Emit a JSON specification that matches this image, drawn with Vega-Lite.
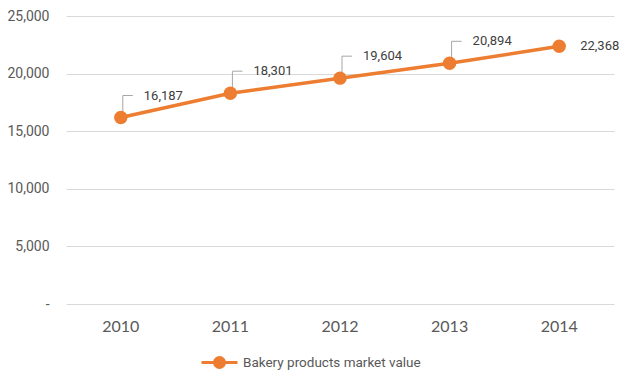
{
  "$schema": "https://vega.github.io/schema/vega-lite/v6.json",
  "width": 548,
  "height": 288,
  "autosize": {"type": "none"},
  "padding": {"left": 66, "top": 16, "right": 5, "bottom": 67},
  "background": "white",
  "config": {
    "view": {"stroke": null},
    "font": "Roboto"
  },
  "data": {
    "values": [
      {"year": "2010", "value": 16187, "series": "Bakery products market value"},
      {"year": "2011", "value": 18301, "series": "Bakery products market value"},
      {"year": "2012", "value": 19604, "series": "Bakery products market value"},
      {"year": "2013", "value": 20894, "series": "Bakery products market value"},
      {"year": "2014", "value": 22368, "series": "Bakery products market value"}
    ]
  },
  "encoding": {
    "x": {
      "field": "year",
      "type": "ordinal",
      "scale": {"paddingInner": 0, "paddingOuter": 0},
      "axis": {
        "title": null,
        "labelAngle": 0,
        "labelFont": "Lato",
        "labelFontSize": 16,
        "labelColor": "#595959",
        "labelPadding": 14,
        "ticks": false,
        "domain": false,
        "grid": false
      }
    },
    "y": {
      "field": "value",
      "type": "quantitative",
      "scale": {"domain": [0, 25000], "nice": false},
      "axis": {
        "title": null,
        "values": [0, 5000, 10000, 15000, 20000, 25000],
        "labelExpr": "datum.value == 0 ? '-' : format(datum.value, ',')",
        "labelFont": "Roboto",
        "labelFontSize": 14,
        "labelColor": "#595959",
        "labelPadding": 17,
        "ticks": false,
        "domain": false,
        "gridColor": "#D9D9D9",
        "gridWidth": 1
      }
    }
  },
  "layer": [
    {
      "transform": [{"filter": "datum.year != '2014'"}],
      "mark": {"type": "rule", "color": "#A6A6A6", "strokeWidth": 1, "xOffset": 2, "y2Offset": -22},
      "encoding": {"y2": {"field": "value"}}
    },
    {
      "transform": [{"filter": "datum.year != '2014'"}],
      "mark": {"type": "rule", "color": "#A6A6A6", "strokeWidth": 1, "xOffset": 2, "x2Offset": 12, "yOffset": -22},
      "encoding": {"x2": {"field": "year"}}
    },
    {
      "mark": {"type": "line", "strokeWidth": 3.5},
      "encoding": {
        "color": {
          "field": "series",
          "type": "nominal",
          "scale": {"range": ["#ED7D31"]},
          "legend": {
            "title": null,
            "orient": "none",
            "legendX": 134,
            "legendY": 327,
            "symbolType": "M-1,0H1M0.28,0A0.28,0.28,0,1,1,-0.28,0A0.28,0.28,0,1,1,0.28,0Z",
            "symbolSize": 1296,
            "symbolStrokeWidth": 3,
            "symbolFillColor": "#ED7D31",
            "symbolStrokeColor": "#ED7D31",
            "labelFont": "Roboto",
            "labelFontSize": 13.5,
            "labelLimit": 400,
            "labelColor": "#595959",
            "labelOffset": 4
          }
        }
      }
    },
    {
      "mark": {"type": "point", "filled": true, "opacity": 1, "size": 180},
      "encoding": {"color": {"field": "series", "type": "nominal", "legend": null}}
    },
    {
      "transform": [{"filter": "datum.year != '2014'"}],
      "mark": {"type": "text", "align": "left", "baseline": "middle", "dx": 23, "dy": -22, "fontSize": 13, "color": "#404040", "font": "Roboto"},
      "encoding": {"text": {"field": "value", "format": ","}}
    },
    {
      "transform": [{"filter": "datum.year == '2014'"}],
      "mark": {"type": "text", "align": "left", "baseline": "middle", "dx": 21, "dy": 0, "fontSize": 13, "color": "#404040", "font": "Roboto"},
      "encoding": {"text": {"field": "value", "format": ","}}
    }
  ]
}
